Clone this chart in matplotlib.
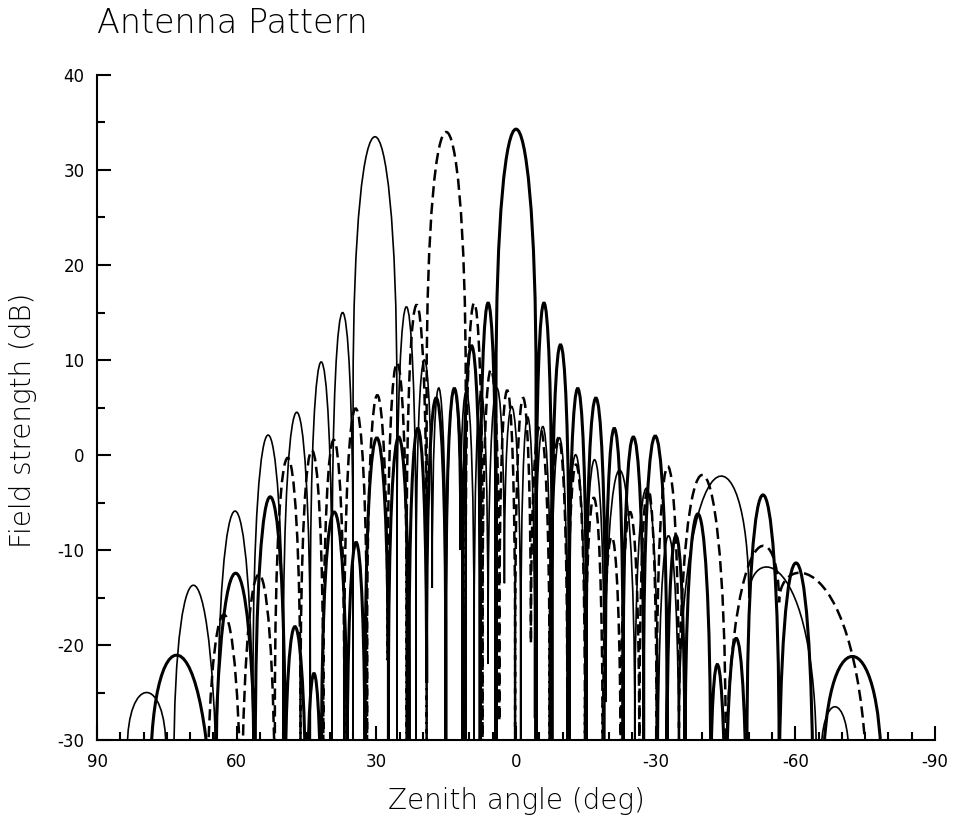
import numpy as np
import matplotlib
matplotlib.use("Agg")
import matplotlib.pyplot as plt
from matplotlib.path import Path
from matplotlib.patches import PathPatch

plt.rcParams["font.family"] = "DejaVu Sans"
plt.rcParams["axes.unicode_minus"] = False

# thin solid: beam at 30 deg. valleys (angle, dB) and the lobe peak between each pair
thin_valley_ang = [83.5, 75.2, 73.5, 64.2, 56.5, 50.0, 44.2, 39.5, 35.0, 25.6,
                   21.5, 18.0, 15.0, 12.0, 9.0, 6.0, 2.5, -1.0, -4.0, -7.5,
                   -11.0, -14.8, -19.0, -25.5, -30.5, -35.0, -50.0, -64.5, -65.5, -71.5]
thin_valley_db = [-31, -31, -33, -45, -45, -45, -45, -45, -45, -45,
                  -45, -14, -45, -10, -45, -22, -13.5, -45, -27.7, -45,
                  -21.6, -26, -45, -45, -45, -45, -15.0, -32, -32, -32]
thin_peak_db = [-25.0, -45, -13.8, -5.9, 2.1, 4.5, 9.8, 15.0, 33.5, 15.6,
                10.0, 7.0, 6.8, 6.5, 6.5, 7.0, 5.0, 4.0, 3.0, 1.8,
                0.0, -0.5, -1.6, -3.5, -8.5, -2.6, -12.8, -45, -26.5]

# dashed: beam at 15 deg
dash_valley_ang = [66.5, 59.0, 51.8, 46.3, 41.4, 36.9, 32.0, 27.6, 23.5, 19.2,
                   10.8, 7.2, 3.6, 0.2, -3.2, -7.2, -11.0, -14.8, -18.6, -22.5,
                   -26.5, -30.2, -35.0, -45.0, -56.5, -75.5]
dash_valley_db = [-45, -45, -45, -45, -45, -45, -45, -21.6, -45, -45,
                  -45, -45, -28, -45, -19.8, -45, -45, -45, -45, -45,
                  -45, -45, -45, -45, -15.5, -38]
dash_peak_db = [-16.8, -12.0, -0.3, 0.5, 1.6, 4.9, 6.3, 9.7, 15.8, 34.0,
                16.0, 9.0, 6.8, 6.0, 3.0, 1.8, -1.0, -4.5, -8.6, -6.0,
                -3.5, -1.2, -2.1, -10.7, -13.9]

# thick solid: beam at 0 deg
thick_valley_ang = [78.5, 65.0, 56.0, 49.6, 45.0, 41.8, 36.3, 32.4, 27.4, 23.0,
                    19.2, 15.1, 11.4, 7.7, 4.3, -4.3, -7.7, -11.4, -15.1, -19.2,
                    -23.0, -27.4, -32.4, -36.3, -41.8, -45.0, -49.6, -56.5, -63.8, -66.0,
                    -78.5]
thick_valley_db = [-34, -45, -45, -45, -45, -45, -45, -45, -45, -45,
                   -24, -45, -45, -45, -45, -45, -45, -45, -45, -26,
                   -45, -45, -45, -45, -45, -45, -45, -45, -45, -34,
                   -34]
thick_peak_db = [-21.3, -11.7, -4.4, -19.0, -23.0, -6.0, -9.2, 1.8, 1.9, 2.8,
                 6.0, 7.0, 11.5, 16.0, 34.3, 16.0, 11.6, 7.0, 6.0, 2.8,
                 1.9, 2.0, -8.5, -6.2, -23.0, -19.3, -4.2, -11.4, -45, -21.2]


def lobe_path(valley_ang, valley_db, peak_db, drop=27.0):
    # each lobe: a rounded cubic arch, dropping straight into the nulls
    verts = [(valley_ang[0], valley_db[0])]
    codes = [Path.MOVETO]
    for i in range(len(peak_db)):
        e0 = max(valley_db[i], peak_db[i] - drop)
        e1 = max(valley_db[i + 1], peak_db[i] - drop)
        c = (8 * peak_db[i] - e0 - e1) / 6.0
        verts += [(valley_ang[i], e0),
                  (valley_ang[i], c), (valley_ang[i + 1], c), (valley_ang[i + 1], e1),
                  (valley_ang[i + 1], valley_db[i + 1])]
        codes += [Path.LINETO, Path.CURVE4, Path.CURVE4, Path.CURVE4, Path.LINETO]
    return Path(verts, codes)


fig = plt.figure(figsize=(9.55, 8.16), dpi=100)
ax = fig.add_axes([0.1016, 0.0931, 0.8775, 0.815])

ax.add_patch(PathPatch(lobe_path(thin_valley_ang, thin_valley_db, thin_peak_db),
                       fill=False, ec="black", lw=1.2))
ax.add_patch(PathPatch(lobe_path(dash_valley_ang, dash_valley_db, dash_peak_db),
                       fill=False, ec="black", lw=1.8, ls=(0, (4.5, 2.2))))
ax.add_patch(PathPatch(lobe_path(thick_valley_ang, thick_valley_db, thick_peak_db),
                       fill=False, ec="black", lw=2.2))

ax.set_xlim(90, -90)
ax.set_ylim(-30, 40)
ax.set_xticks(np.arange(-90, 91, 30))
ax.set_xticks(np.arange(-90, 91, 5), minor=True)
ax.set_yticks(np.arange(-30, 41, 10))
ax.set_yticks(np.arange(-30, 41, 5), minor=True)
ax.tick_params(which="both", direction="in", width=1.5, labelsize=12, pad=9)
ax.tick_params(which="major", length=10)
ax.tick_params(which="minor", length=6)

for s in ["top", "right"]:
    ax.spines[s].set_visible(False)
for s in ["left", "bottom"]:
    ax.spines[s].set_linewidth(1.5)

ax.set_xlabel("Zenith angle (deg)", fontsize=20, fontweight="light")
ax.xaxis.set_label_coords(0.5, -0.071)
ax.set_ylabel("Field strength (dB)", fontsize=20, fontweight="light")
ax.yaxis.set_label_coords(-0.072, 0.481)

fig.text(97 / 955, 1 - 33 / 816, "Antenna Pattern", fontsize=24, fontweight="light",
         ha="left", va="baseline")

plt.savefig("out.png", dpi=100)
